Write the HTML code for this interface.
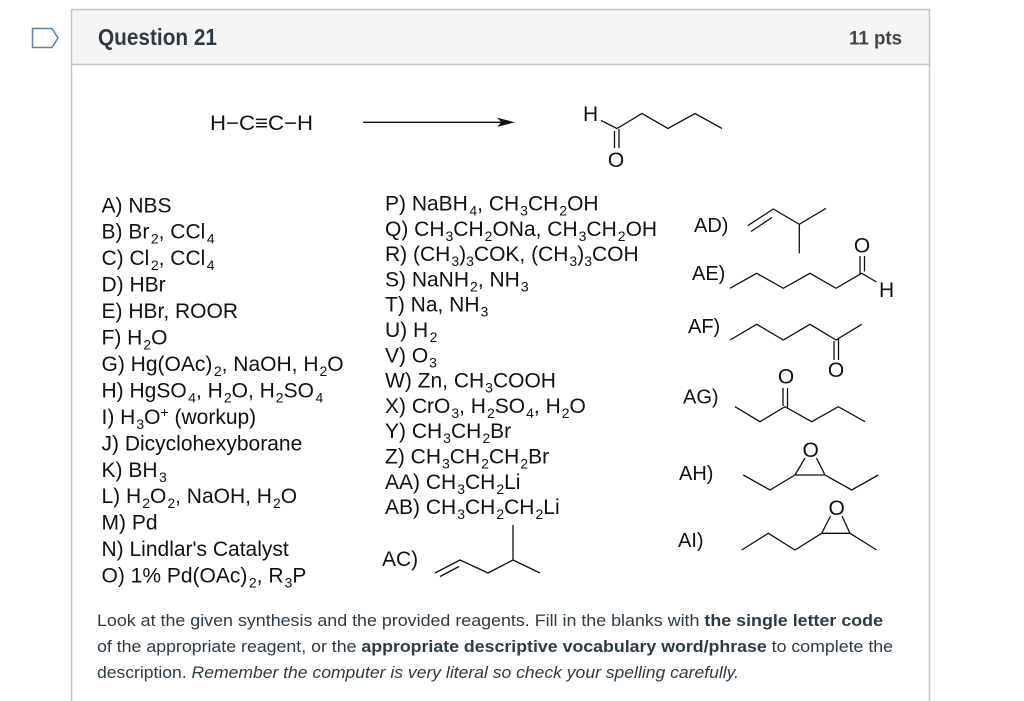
<!DOCTYPE html>
<html><head><meta charset="utf-8"><style>
html,body{margin:0;padding:0;background:#fff;width:1024px;height:701px;overflow:hidden}
svg{display:block}
.t{font-family:"Liberation Sans",Arial,sans-serif;font-size:21px;fill:#111}
.s{font-size:14px}
.b{stroke:#111;stroke-width:1.3;fill:none;stroke-linejoin:miter}
.p{font-family:"Liberation Sans",Arial,sans-serif;font-size:17px;fill:#2d3b45}
</style></head><body>
<svg width="1024" height="701" viewBox="0 0 1024 701" xmlns="http://www.w3.org/2000/svg">
<rect x="0" y="0" width="1024" height="701" fill="#fff"/>
<!-- box -->
<rect x="71.5" y="9.5" width="858" height="55" fill="#f5f5f5" stroke="#c4c4c4" stroke-width="1.5"/>
<line x1="71.5" y1="64.5" x2="71.5" y2="701" stroke="#c4c4c4" stroke-width="1.5"/>
<line x1="929.5" y1="64.5" x2="929.5" y2="701" stroke="#c4c4c4" stroke-width="1.5"/>
<polygon points="32.5,28.5 52,28.5 58,38 52,47.5 32.5,47.5" fill="none" stroke="#5b84a8" stroke-width="1.5"/>
<text x="98" y="45" font-family="Liberation Sans,Arial,sans-serif" font-size="23" font-weight="bold" fill="#2d3b45" textLength="119" lengthAdjust="spacingAndGlyphs">Question 21</text>
<text x="849" y="44.5" font-family="Liberation Sans,Arial,sans-serif" font-size="19" font-weight="bold" fill="#444" textLength="53" lengthAdjust="spacingAndGlyphs">11 pts</text>

<!-- reaction -->
<text class="t" x="210" y="130" font-size="20" textLength="103" lengthAdjust="spacingAndGlyphs">H−C≡C−H</text>
<line class="b" x1="363" y1="122.3" x2="503" y2="122.3"/>
<polygon points="515,122.3 497,117.6 501.5,122.3 497,127" fill="#111"/>
<text class="t" x="583" y="121" font-size="19">H</text>
<polyline class="b" points="601,120.5 617,128.5 642,113.5 668,128.5 695,113.5 722,128.5"/>
<line class="b" x1="614.5" y1="131" x2="614.5" y2="148"/>
<line class="b" x1="619" y1="129" x2="619" y2="148"/>
<text class="t" x="616" y="167" font-size="20" text-anchor="middle">O</text>

<!-- left list -->
<g class="t">
<text x="101.5" y="212.3">A) NBS</text>
<text x="101.5" y="238.7">B) Br<tspan class="s" dx="1.5" dy="5">2</tspan><tspan dy="-5">, CCl</tspan><tspan class="s" dx="1.5" dy="5">4</tspan></text>
<text x="101.5" y="265.2">C) Cl<tspan class="s" dx="1.5" dy="5">2</tspan><tspan dy="-5">, CCl</tspan><tspan class="s" dx="1.5" dy="5">4</tspan></text>
<text x="101.5" y="291.6">D) HBr</text>
<text x="101.5" y="318.1">E) HBr, ROOR</text>
<text x="101.5" y="344.5">F) H<tspan class="s" dx="1" dy="5">2</tspan><tspan dy="-5">O</tspan></text>
<text x="101.5" y="371">G) Hg(OAc)<tspan class="s" dx="1.5" dy="5">2</tspan><tspan dy="-5">, NaOH, H</tspan><tspan class="s" dx="1" dy="5">2</tspan><tspan dy="-5">O</tspan></text>
<text x="101.5" y="397.4">H) HgSO<tspan class="s" dx="1.5" dy="5">4</tspan><tspan dy="-5">, H</tspan><tspan class="s" dx="1" dy="5">2</tspan><tspan dy="-5">O, H</tspan><tspan class="s" dx="1" dy="5">2</tspan><tspan dy="-5">SO</tspan><tspan class="s" dx="1.5" dy="5">4</tspan></text>
<text x="101.5" y="423.9">I) H<tspan class="s" dx="1" dy="5">3</tspan><tspan dy="-5">O</tspan><tspan class="s" dy="-7">+</tspan><tspan dy="7"> (workup)</tspan></text>
<text x="101.5" y="450.3">J) Dicyclohexyborane</text>
<text x="101.5" y="476.8">K) BH<tspan class="s" dx="1.5" dy="5">3</tspan></text>
<text x="101.5" y="503.2">L) H<tspan class="s" dx="1" dy="5">2</tspan><tspan dy="-5">O</tspan><tspan class="s" dx="1" dy="5">2</tspan><tspan dy="-5">, NaOH, H</tspan><tspan class="s" dx="1" dy="5">2</tspan><tspan dy="-5">O</tspan></text>
<text x="101.5" y="529.7">M) Pd</text>
<text x="101.5" y="556.1">N) Lindlar's Catalyst</text>
<text x="101.5" y="582.6">O) 1% Pd(OAc)<tspan class="s" dx="1.5" dy="5">2</tspan><tspan dy="-5">, R</tspan><tspan class="s" dx="1" dy="5">3</tspan><tspan dy="-5">P</tspan></text>
</g>

<!-- middle list -->
<g class="t">
<text x="385" y="210.5">P) NaBH<tspan class="s" dx="1.5" dy="5">4</tspan><tspan dy="-5">, CH</tspan><tspan class="s" dx="1" dy="5">3</tspan><tspan dy="-5">CH</tspan><tspan class="s" dx="1" dy="5">2</tspan><tspan dy="-5">OH</tspan></text>
<text x="385" y="235.8">Q) CH<tspan class="s" dx="1" dy="5">3</tspan><tspan dy="-5">CH</tspan><tspan class="s" dx="1" dy="5">2</tspan><tspan dy="-5">ONa, CH</tspan><tspan class="s" dx="1" dy="5">3</tspan><tspan dy="-5">CH</tspan><tspan class="s" dx="1" dy="5">2</tspan><tspan dy="-5">OH</tspan></text>
<text x="385" y="261.1">R) (CH<tspan class="s" dx="1" dy="5">3</tspan><tspan dy="-5">)</tspan><tspan class="s" dy="5">3</tspan><tspan dy="-5">COK, (CH</tspan><tspan class="s" dx="1" dy="5">3</tspan><tspan dy="-5">)</tspan><tspan class="s" dy="5">3</tspan><tspan dy="-5">COH</tspan></text>
<text x="385" y="286.4">S) NaNH<tspan class="s" dx="1" dy="5">2</tspan><tspan dy="-5">, NH</tspan><tspan class="s" dx="1" dy="5">3</tspan></text>
<text x="385" y="311.7">T) Na, NH<tspan class="s" dx="1" dy="5">3</tspan></text>
<text x="385" y="337">U) H<tspan class="s" dx="1.5" dy="5">2</tspan></text>
<text x="385" y="362.3">V) O<tspan class="s" dx="1" dy="5">3</tspan></text>
<text x="385" y="387.6">W) Zn, CH<tspan class="s" dx="1" dy="5">3</tspan><tspan dy="-5">COOH</tspan></text>
<text x="385" y="412.9">X) CrO<tspan class="s" dx="1" dy="5">3</tspan><tspan dy="-5">, H</tspan><tspan class="s" dx="1" dy="5">2</tspan><tspan dy="-5">SO</tspan><tspan class="s" dx="1" dy="5">4</tspan><tspan dy="-5">, H</tspan><tspan class="s" dx="1" dy="5">2</tspan><tspan dy="-5">O</tspan></text>
<text x="385" y="438.2">Y) CH<tspan class="s" dx="1" dy="5">3</tspan><tspan dy="-5">CH</tspan><tspan class="s" dx="1" dy="5">2</tspan><tspan dy="-5">Br</tspan></text>
<text x="385" y="463.5">Z) CH<tspan class="s" dx="1" dy="5">3</tspan><tspan dy="-5">CH</tspan><tspan class="s" dx="1" dy="5">2</tspan><tspan dy="-5">CH</tspan><tspan class="s" dx="1" dy="5">2</tspan><tspan dy="-5">Br</tspan></text>
<text x="385" y="488.8">AA) CH<tspan class="s" dx="1" dy="5">3</tspan><tspan dy="-5">CH</tspan><tspan class="s" dx="1" dy="5">2</tspan><tspan dy="-5">Li</tspan></text>
<text x="385" y="514.1">AB) CH<tspan class="s" dx="1" dy="5">3</tspan><tspan dy="-5">CH</tspan><tspan class="s" dx="1" dy="5">2</tspan><tspan dy="-5">CH</tspan><tspan class="s" dx="1" dy="5">2</tspan><tspan dy="-5">Li</tspan></text>
<text x="382" y="566">AC)</text>
</g>
<!-- AC structure -->
<polyline class="b" points="435,573 460,560 488,573 513,560 540,573"/>
<line class="b" x1="513" y1="560" x2="513" y2="525"/>
<line class="b" x1="440" y1="576.5" x2="459" y2="566.5"/>

<!-- right column labels -->
<g class="t">
<text x="694" y="232" font-size="20">AD)</text>
<text x="692" y="280" font-size="20">AE)</text>
<text x="688" y="333" font-size="20">AF)</text>
<text x="683" y="403.3" font-size="20">AG)</text>
<text x="679" y="480" font-size="20">AH)</text>
<text x="678" y="547" font-size="20">AI)</text>
</g>

<!-- AD -->
<polyline class="b" points="747.7,225.7 773.3,209 799.3,224.3 826,208.3"/>
<line class="b" x1="799.3" y1="224.3" x2="799.3" y2="253.3"/>
<line class="b" x1="751" y1="231.5" x2="772" y2="217.5"/>

<!-- AE -->
<polyline class="b" points="730,288.3 756.7,273.3 783.3,288.3 810,273.3 836,288.3 861.7,273.3 876.5,282"/>
<line class="b" x1="860" y1="256" x2="860" y2="274"/>
<line class="b" x1="864.5" y1="256" x2="864.5" y2="271.5"/>
<text class="t" x="862" y="252.5" font-size="20" text-anchor="middle">O</text>
<text class="t" x="879" y="297" font-size="20">H</text>

<!-- AF -->
<polyline class="b" points="730,340 756.7,324.3 783.3,340 810,324.3 836,340 861.7,324.3"/>
<line class="b" x1="834" y1="341" x2="834" y2="360"/>
<line class="b" x1="838.5" y1="338" x2="838.5" y2="360"/>
<text class="t" x="836" y="377" font-size="20" text-anchor="middle">O</text>

<!-- AG -->
<polyline class="b" points="735,406.7 760,421.7 785,406.7 811.7,421.7 838.3,406.7 865,421.7"/>
<line class="b" x1="783" y1="388" x2="783" y2="406"/>
<line class="b" x1="787.5" y1="388" x2="787.5" y2="408.5"/>
<text class="t" x="786" y="383.3" font-size="20" text-anchor="middle">O</text>

<!-- AH -->
<polyline class="b" points="743.3,475 770,490 795,475 825,475 851.7,490 878.3,475"/>
<line class="b" x1="795" y1="475" x2="805" y2="458"/>
<line class="b" x1="825" y1="475" x2="816.5" y2="458"/>
<text class="t" x="810.7" y="457" font-size="20" text-anchor="middle">O</text>

<!-- AI -->
<polyline class="b" points="741.7,550 768.3,533.3 795,550 821.7,533.3 850,533.3 876.7,550"/>
<line class="b" x1="821.7" y1="533.3" x2="830.5" y2="516"/>
<line class="b" x1="850" y1="533.3" x2="842" y2="516"/>
<text class="t" x="836.7" y="515" font-size="20" text-anchor="middle">O</text>

<!-- paragraph -->
<text class="p" x="97" y="626" textLength="786" lengthAdjust="spacingAndGlyphs">Look at the given synthesis and the provided reagents. Fill in the blanks with <tspan font-weight="bold">the single letter code</tspan></text>
<text class="p" x="97" y="652" textLength="796" lengthAdjust="spacingAndGlyphs">of the appropriate reagent, or the <tspan font-weight="bold">appropriate descriptive vocabulary word/phrase</tspan> to complete the</text>
<text class="p" x="97" y="678" textLength="642" lengthAdjust="spacingAndGlyphs">description. <tspan font-style="italic">Remember the computer is very literal so check your spelling carefully.</tspan></text>
</svg>
</body></html>
